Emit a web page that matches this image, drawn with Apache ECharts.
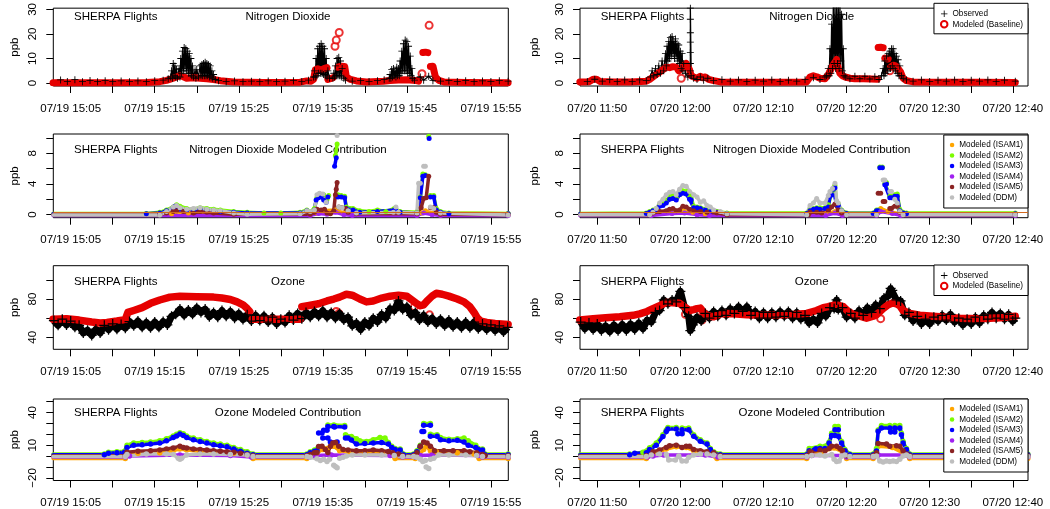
<!DOCTYPE html>
<html><head><meta charset="utf-8">
<script src="https://cdn.jsdelivr.net/npm/echarts/dist/echarts.min.js"></script>
<style>html,body{margin:0;padding:0;background:#fff}#c{width:1050px;height:509px}</style>
</head><body><div id="c"></div>
<script>
// ---------- axis / label data ----------
const dateL = '07/19', dateR = '07/20';
const xTicksL = [905,910,915,920,925,930,935,940,945,950,955];
const xLabelsL = [905,915,925,935,945,955];
const xTicksR = [710,715,720,725,730,735,740,745,750,755,760];
const xLabelsR = [710,720,730,740,750,760];
const xRangeL = [902.93, 957.07];
const xRangeR = [707.92, 761.83];
const yRange1 = [-1.17, 30.5], yTicks1 = [0,10,20,30], yLabels1 = [0,10,20,30];
const yRange2 = [-0.4, 10.5], yTicks2 = [0,2,4,6,8,10], yLabels2 = [0,4,8];
const yRange3 = [27.5, 114.8], yTicks3 = [40,60,80,100], yLabels3 = [40,80];
const yRange4 = [-22.4, 52.4], yTicks4 = [-20,-10,0,10,20,30,40,50], yLabels4 = [-20,10,40];
const yName = 'ppb';
const flightLabel = 'SHERPA Flights';
const panelTitles = ['Nitrogen Dioxide','Nitrogen Dioxide Modeled Contribution','Ozone','Ozone Modeled Contribution'];
const baseNames = ['Observed','Modeled (Baseline)'];
const ctrNames = ['Modeled (ISAM1)','Modeled (ISAM2)','Modeled (ISAM3)','Modeled (ISAM4)','Modeled (ISAM5)','Modeled (DDM)'];
const no2RefLine = 0.3;

// ---------- NO2 (row 1) ----------
const no2ObsL = [[902.9,0.9],[903.8,1.3],[904.6,0.7],[905.5,1.4],[906.4,0.6],[907.3,1.1],[908.2,0.6],[909.1,1.0],[910.0,0.6],[911.0,0.9],[912.0,0.6],[913.0,0.9],[914.0,0.6],[915.0,1.0],[916.0,1.2],[916.6,1.8],
[916.9,2.5],[917.0,5],[917.1,2],[917.2,8],[917.3,3],[917.4,7],[917.5,2.5],[917.6,5.5],[917.7,2],
[917.9,6],[918.0,2.5],[918.1,10],[918.2,4],[918.3,13],[918.4,5],[918.5,14.5],[918.6,6],[918.7,14],[918.8,5],[918.9,13],[919.0,4],[919.1,12],[919.2,4],[919.3,10],[919.4,3],[919.5,7],[919.6,2.5],
[919.8,5],[919.9,2],[920.0,5.5],[920.2,2.5],[920.4,7],[920.5,3],[920.6,7.5],[920.7,3],[920.8,8],[920.9,3],[921.0,8.5],[921.1,3],[921.2,8],[921.3,3],[921.4,7.5],[921.5,2.5],[921.6,7],[921.7,2.5],[921.8,5],[921.9,2],[922.0,3.5],[922.2,1.5],
[922.6,1.0],[923.5,0.6],[924.5,0.9],[925.5,0.6],[926.5,0.8],[927.5,0.6],[928.5,0.9],[929.5,0.6],[930.5,0.8],[931.5,1.0],[932.5,0.7],[933.3,1.2],
[933.9,2.5],[934.0,5],[934.1,2.5],[934.2,10],[934.3,3],[934.4,14],[934.5,4],[934.6,15],[934.7,4],[934.8,16],[934.9,4],[935.0,15],[935.1,3.5],[935.2,14],[935.3,3],[935.4,10],[935.5,2.5],[935.6,5],[935.8,2],
[936.2,2],[936.3,4],[936.4,2.5],[936.5,7],[936.6,3],[936.7,10],[936.8,3],[936.9,10.5],[937.0,3],[937.1,9],[937.2,2.5],[937.3,6],[937.5,2],[937.7,1.2],
[938.5,0.8],[939.5,1.0],[940.5,0.7],[941.5,1.0],[942.3,1.4],
[942.9,2],[943.0,3.5],[943.1,2],[943.2,5.5],[943.3,2.5],[943.4,6],[943.5,3],[943.6,5],[943.7,2.5],[943.8,6.5],[943.9,3],[944.0,6],[944.1,3],[944.2,9],[944.3,4],[944.4,13],[944.5,5],[944.6,16],[944.7,5],[944.8,17.5],[944.9,5],[945.0,17],[945.1,4],[945.2,15],[945.3,4],[945.4,11],[945.5,3],[945.6,6],[945.7,2],[945.9,1.2],
[946.6,2.5],[947.0,1.2],[947.6,2.8],[948.1,1.0],[949,0.8],[950,1.0],[951,0.7],[952,1.0],[953,0.6],[954,0.9],[955,0.7],[956,1.0],[957.05,0.8]];
const no2ModL = [[902.9,0.2],[906,0.2],[910,0.2],[914,0.3],[915.6,0.6],[916.4,1.1],[917.2,2.0],[918.0,3.0],[918.4,2.6],[918.8,2.0],[919.6,2.2],[920.4,2.0],[921.2,1.8],[922.0,1.5],[922.8,1.0],[924.4,0.5],[928,0.3],[932.3,0.4],[933.1,0.9],[933.6,0.8],[933.9,1.5],[934.1,5.4],[934.4,5.8],[934.8,5.3],[935.2,6.0],[935.5,6.3],null,[935.6,1.5],[935.9,1.8],[936.2,2.2],null,[936.8,6.5],[937.2,6.9],[937.6,6.8],[937.8,2.5],[938.3,1.5],[939,0.9],[940.2,0.5],[942.2,0.8],[943,1.1],[944,1.3],[945,1.4],[946,1.1],[946.4,0.8],null,[946.9,12.5],[947.2,12.6],[947.5,12.4],null,[947.8,6.8],[948.1,6.9],[948.3,6.5],[948.4,2.5],[948.8,1.1],[949.4,0.5],[952,0.3],[957.05,0.2]];
const no2ModLOut = [[936.45,15],[936.6,17.5],[936.95,20.6],[946.8,3.8],[947.65,23.5]];
const no2ObsR = [[707.9,1.3],[708.8,0.7],[709.7,1.6],[710.6,0.8],[711.5,1.4],[712.4,0.7],[713.3,1.3],[714.2,0.7],[715.1,1.3],[715.9,1.0],
[716.4,2.5],[716.6,5],[716.8,3],[717.0,6],[717.2,3.5],[717.4,7],[717.6,4],[717.8,9],[718.0,5],[718.2,12],[718.3,7],[718.4,15],[718.5,9],[718.6,17],[718.7,10],[718.8,18.5],[718.9,11],[719.0,19],[719.1,12],[719.2,17],[719.3,10],[719.4,18],[719.5,11],[719.6,16],[719.7,9],[719.8,15.5],[719.9,8],[720.0,13],[720.1,6],[720.2,12],[720.3,5],[720.4,8],[720.6,4],[720.9,2.5],
[721.2,5],[721.2,8],[721.2,12.5],[721.2,16.7],[721.2,20.5],[721.2,26],[721.2,30.5],[721.3,3],[721.6,2],[722.0,1.5],[722.4,2.5],[722.8,1.2],[723.3,2],[724,1.0],[725,1.4],[726,0.8],[727,1.3],[728,0.7],[729,1.2],[730,0.8],[731,1.3],[732,0.7],[733,1.2],[734,0.8],[735,1.4],[736,2.2],[736.8,1.5],[737.4,2.5],
[737.6,3],[737.8,6],[737.9,3],[738.0,14],[738.1,4],[738.2,24],[738.3,6],[738.4,31],[738.5,8],[738.6,31],[738.7,6],[738.8,31],[738.9,8],[739.0,31],[739.1,6],[739.2,31],[739.3,9],[739.4,28],[739.5,5],[739.6,14],[739.7,3],[739.9,2.5],
[740.4,1.8],[741,2.8],[741.6,1.8],[742.2,2.8],[742.8,1.7],[743.4,2.6],[743.9,1.5],
[744.2,3],[744.4,6],[744.5,3],[744.6,9],[744.7,4],[744.8,11],[744.9,5],[745.0,12],[745.1,6],[745.2,13],[745.3,6],[745.4,14],[745.5,7],[745.6,14],[745.7,6],[745.8,12],[745.9,5],[746.0,11],[746.1,4],[746.2,9.5],[746.3,3],[746.4,7],[746.6,3],[746.8,2],
[747.2,1.3],[748,0.8],[749,1.3],[750,0.7],[751,1.2],[752,0.8],[753,1.3],[754,0.7],[755,1.2],[756,0.8],[757,1.3],[758,0.7],[759,1.2],[760.3,0.8]];
const no2ModR = [[707.9,0.5],[709.0,0.6],[709.5,1.6],[709.9,1.6],[710.3,0.7],[712,0.5],[714,0.5],[715.9,0.8],[716.3,1.5],[716.7,2.5],[717.1,3.5],[717.5,4.5],[717.9,5.5],[718.3,6.5],[718.7,6.3],[719.1,6.7],[719.5,6.5],[719.8,5],[720.3,6.5],[720.5,7.3],[720.7,8],[720.9,7.5],[721.1,5.5],[721.3,3],[721.6,2.5],[722,2.0],[722.4,2.8],[722.7,2.2],[723,2.5],[723.4,1.5],[724,1.0],[724.8,0.5],[728,0.4],[732,0.4],[735.2,0.5],[735.6,2.5],[736.0,3.0],[736.4,2.6],[736.8,2.0],[737.4,1.8],[737.8,3.5],[738.1,5.5],[738.4,7.5],[738.6,8.5],[738.8,9.6],[739.0,6],[739.2,4],[739.5,3],[739.8,2.5],[740.4,2.0],[741,1.8],[742,1.8],[743,1.7],[743.7,1.6],null,[743.8,14.5],[744.1,14.6],[744.4,14.4],null,[744.6,10.2],[744.8,10.0],[745.0,9.8],null,[745.3,6.5],[745.6,7.3],[745.9,7.0],[746.1,6.8],[746.3,5.5],[746.5,4.5],[746.8,2],[747.2,1.0],[748,0.5],[752,0.4],[756,0.4],[760.3,0.3]];
const no2ModROut = [[720.1,2],[745.2,5.0]];

// ---------- NO2 contributions (row 2) ----------
const no2L_ISAM1 = [[902.9,0.1],[917,0.1],[918,0.4],[919,0.2],[934.3,0.2],[935,0.5],[936.5,0.6],[937.5,0.2],[946.8,0.2],[947.2,0.5],[948,0.2],[957.05,0.1]];
const no2L_ISAM2 = [[902.9,0.15],[914,0.15],[915.6,0.3],[916.4,0.6],[917.2,1.0],[917.6,1.3],[918,1.1],[918.8,0.8],[919.6,0.7],[920.4,0.9],[921.2,0.8],[922,0.7],[922.8,0.6],[924.4,0.4],[926,0.3],[928,0.2],[930,0.2],[932.3,0.3],[933.1,0.6],[933.5,0.4],[934.0,0.8],[934.3,2.2],[934.7,2.5],[935.1,2.6],[935.5,2.0],[935.7,2.5],null,[936.5,7.7],[936.7,9.2],null,[936.8,2.6],[937.2,2.5],[937.6,2.4],[937.8,1.0],[938.6,0.8],[939.4,0.5],[940.5,0.4],[941.5,0.6],[942.5,0.4],[943.5,0.8],[944.2,0.4],[946.2,0.3],[946.6,2.3],[946.9,5.3],[947.2,5.2],null,[947.6,10.2],null,[947.8,2.5],[948.2,2.5],[948.5,0.8],[949,0.4],[950,0.2],[957.05,0.15]];
const no2L_ISAM3 = [[902.9,0.1],[914,0.1],[915.6,0.2],[916.4,0.5],[917.2,0.9],[917.4,1.1],[918,0.7],[918.8,0.5],[919.6,0.4],[920.4,0.7],[921.2,0.6],[922,0.5],[922.8,0.4],[924.4,0.3],[926,0.2],[932.3,0.2],[933.1,0.5],[933.5,0.3],[934.0,0.6],[934.2,1.9],[934.5,2.2],[934.8,2.4],[935.1,1.9],[935.4,1.6],[935.6,2.3],null,[936.4,6.3],[936.6,7.4],null,[936.8,2.3],[937.2,2.3],[937.6,2.2],[937.8,0.8],[938.6,0.6],[939.4,0.3],[941.5,0.4],[943.5,0.6],[943.7,0.5],[944.2,0.3],[946.2,0.2],[946.6,2.2],[946.9,5.0],[947.2,5.1],null,[947.65,9.9],null,[947.8,2.3],[948.2,2.3],[948.5,0.6],[949,0.3],[950,0.1],[957.05,0.1]];
const no2L_ISAM4 = [[902.9,-0.1],[933.5,-0.1],[934.5,0.15],[935.5,0.05],[936.5,0.3],[937.5,0.0],[938.5,-0.1],[946.2,-0.1],[947,0.2],[948,0.0],[949,-0.1],[957.05,-0.1]];
const no2L_ISAM5 = [[902.9,0],[915.6,0],[916.4,0.2],[917.2,0.4],[917.6,0.5],[918.4,0.4],[919.6,0.2],[920.4,0.4],[921.2,0.3],[922,0.2],[924.4,0.05],[933.5,0.05],[934.0,0.3],[934.3,0.7],[934.8,0.6],[935.2,0.7],[935.5,0.2],[935.9,0.1],[936.3,0.5],[936.5,2.6],[936.6,3.3],[936.7,4.2],null,[936.9,1.0],[937.3,0.9],[937.7,0.8],[938.0,0.3],[939,0.1],[946.2,0.1],[946.7,0.9],[947.0,2.1],[947.3,2.2],[947.6,5.0],null,[947.8,0.9],[948.2,0.9],[948.5,0.3],[949,0.05],[957.05,0]];
const no2L_DDM = [[902.9,-0.05],[915.6,-0.05],[916.4,0.4],[917.2,1.0],[917.6,1.2],[918,0.9],[918.8,0.7],[919.6,0.8],[920.4,0.9],[921.2,0.7],[922,0.6],[922.8,0.5],[924.4,0.2],[926,0.05],[932.3,0.1],[933.1,0.5],[933.5,0.4],[934.0,0.6],[934.3,2.6],[934.6,2.8],[935.0,2.7],[935.4,1.6],null,[936.7,10.3],null,[936.9,1.0],[937.3,0.9],[938,0.5],[939,0.2],[943.4,0.3],[943.7,1.0],[944,0.3],[946.2,0.2],[946.4,4.1],[946.6,4.1],null,[947.0,6.3],[947.2,6.3],null,[947.8,1.0],[948.2,0.8],[949,0.2],[957.05,-0.05]];
const no2R_ISAM1 = [[707.9,0.1],[716.5,0.1],[719,0.3],[720.3,0.5],[721.5,0.3],[723,0.1],[737.5,0.1],[738.6,0.4],[739.5,0.1],[743.6,0.1],[744.1,0.8],[745,0.4],[746.5,0.1],[760.3,0.1]];
const no2R_ISAM2 = [[707.9,0.15],[715.9,0.2],[716.3,0.4],[716.7,0.6],[717.1,0.8],[717.5,1.3],[717.9,1.4],[718.3,1.8],[718.7,2.4],[719.1,2.5],[719.5,2.2],[719.9,2.6],[720.3,3.1],[720.7,3.0],[721.1,2.5],[721.3,2.2],[721.6,1.1],[722.0,1.0],[722.4,0.9],[723.0,0.7],[723.6,0.5],[724.4,0.4],[725.6,0.2],[735.2,0.2],[735.6,0.6],[736.0,0.8],[736.4,0.9],[736.8,0.9],[737.4,0.9],[737.8,1.3],[738.2,2.7],[738.4,3.2],[738.6,3.8],[738.8,1.5],[739.0,1.4],[739.4,0.6],[740,0.2],[743.2,0.2],[743.6,0.6],[743.8,0.6],null,[744.0,6.2],[744.3,6.2],null,[744.6,4.1],[744.8,4.2],[745.2,2.4],[745.4,2.4],[745.8,2.6],[746.1,2.7],[746.4,0.7],[746.8,0.3],[747.2,0.2],[760.3,0.2]];
const no2R_ISAM3 = [[707.9,0.1],[715.9,0.15],[716.3,0.3],[716.7,0.5],[717.1,0.6],[717.5,1.1],[717.9,1.2],[718.3,1.5],[718.7,2.0],[719.1,2.1],[719.5,1.9],[719.9,2.6],[720.3,2.8],[720.7,2.7],[721.1,2.0],[721.3,1.9],[721.6,0.9],[722.0,0.9],[722.4,0.8],[723.0,0.6],[723.6,0.4],[724.4,0.3],[725.6,0.1],[735.2,0.15],[735.6,0.5],[736.0,0.7],[736.4,0.8],[736.8,0.7],[737.4,0.8],[737.8,1.0],[738.0,2.4],[738.2,2.6],[738.4,3.3],[738.6,3.5],[738.8,1.3],[739.0,1.2],[739.4,0.5],[740,0.15],[743.2,0.15],[743.6,0.5],[743.8,0.5],null,[744.0,6.1],[744.3,6.1],null,[744.6,3.9],[744.8,4.0],[745.2,2.2],[745.4,2.2],[745.8,2.4],[746.1,2.4],[746.4,0.5],[746.8,0.2],[747.2,0.1],[760.3,0.1]];
const no2R_ISAM4 = [[707.9,-0.1],[716.5,-0.1],[719,0.15],[720.5,0.2],[722,0.0],[723.5,-0.1],[737.5,-0.1],[738.6,0.2],[739.5,-0.1],[743.6,-0.1],[744.1,0.4],[745.5,0.15],[746.5,-0.1],[760.3,-0.1]];
const no2R_ISAM5 = [[707.9,0],[716.3,0],[716.7,0.2],[717.5,0.4],[718.3,0.5],[718.7,0.7],[719.1,0.8],[719.5,0.5],[719.9,0.6],[720.3,1.1],[720.7,1.0],[721.1,0.7],[721.6,0.5],[722.4,0.4],[723.2,0.3],[724.4,0.2],[725.6,0],[735.4,0],[735.6,0.3],[736.4,0.3],[737.0,0.2],[737.8,0.5],[738.2,1.0],[738.6,1.4],[738.8,1.5],[739.0,0.6],[739.4,0.2],[740,0],[743.6,0],null,[743.8,2.8],[744.1,2.8],null,[744.4,1.7],[744.6,1.7],null,[745.2,0.8],[745.4,0.8],[745.8,1.1],[746.1,1.1],[746.4,0.3],[746.8,0],[760.3,0]];
const no2R_DDM = [[707.9,0],[716.3,0],[716.7,0.3],[717.1,0.8],[717.5,1.5],[717.9,2.0],[718.3,2.6],[718.7,2.9],[719.1,3.0],[719.5,2.6],[719.9,3.3],[720.3,3.8],[720.7,3.7],[721.1,3.0],[721.6,2.6],[722.0,2.3],[722.4,1.6],[722.8,1.8],[723.2,1.2],[723.6,1.0],[724.0,0.6],[724.8,0.4],[725.6,0.1],[735.2,0],[735.6,1.2],[736.0,1.5],[736.4,2.1],[736.8,1.5],[737.4,1.5],[737.8,2.5],[738.0,3.0],[738.3,3.4],[738.6,4.1],[738.8,1.8],[739.0,1.5],[739.4,0.5],[740,0],[743.6,0],null,[744.4,4.5],[744.6,4.5],null,[745.2,3.0],[745.4,3.0],[745.8,2.0],[746.1,1.5],[746.4,0.4],[746.8,0],[760.3,0]];

// ---------- Ozone (row 3) ----------
const o3ObsL = [[903,57.5],[903.5,52.5],[904,59],[904.5,53],[905,57],[905.5,50.5],[906,52.5],[906.5,44.5],[907,47.5],[907.5,42],[908,48.5],[908.5,44.5],[909,52.5],[909.5,48],[910,54],[910.5,48.5],[911,53.5],[911.5,49.5],[912,56.5],[912.5,52],[913,57],[913.5,50.5],[914,55.5],[914.5,50],[915,56],[915.5,50.5],[916,56.5],[916.5,53],[917,62],[917.5,64],[918,69.5],[918.5,63],[919,68.5],[919.5,64],[920,71],[920.5,66],[921,69.5],[921.5,61.5],[922,66],[922.5,61],[923,68],[923.5,62],[924,67],[924.5,60],[925,65],[925.5,58.5],[926,63.5],[926.5,57],[927,63],[927.5,57.5],[928,62.5],[928.5,56],[929,61],[929.5,54],[930,59],[930.5,55.5],[931,63],[931.5,58],[932,65],[932.5,59.5],[933,66],[933.5,61],[934,67],[934.5,62],[935,68],[935.5,61],[936,66],[936.5,60],[937,65],[937.5,58],[938,61],[938.5,52],[939,55],[939.5,48],[940,56],[940.5,52],[941,60],[941.5,56],[942,64],[942.5,60],[943,70],[943.5,68],[944,78],[944.5,69],[945,72],[945.5,63],[946,66],[946.5,58],[947,63],[947.5,56],[948,60],[948.5,54],[949,59],[949.5,52],[950,58],[950.5,51],[951,56],[951.5,50],[952,56],[952.5,50],[953,56],[953.5,49],[954,54],[954.5,48],[955,53],[955.5,47],[956,52],[956.5,45.5],[957,50.5]];
const o3ModL = [[902.9,59],[904.5,59.5],[906,58],[907.5,56],[908.5,55],[909.3,55.5],[910.5,57],[911.5,58.5],[911.8,66],[912.5,68],[913.5,71],[914.5,75.5],[915.6,79],[916.8,82],[918,83],[920,82.5],[922,82],[923,81],[924,79.5],[924.8,77],[925.5,74],[926.0,70],[926.3,67],null,[926.6,58.8],[928,58.8],[930,58.8],[932.3,58.8],null,[932.5,72],[933.2,73],[934.5,75],[935.5,78],[936.3,80],[937,82],[937.8,85],[938.5,84],[939.4,80],[940.2,77],[941,78],[942,81],[943,83],[944,84],[945,83],[945.6,79],[946.2,75],[946.6,73],[947.0,74],[947.4,78],[948.0,83],[948.5,86],[949.2,85],[950,83],[951,80],[951.8,77],[952.5,72],[953,66],[953.4,60],[953.8,57],[954.5,55.5],[955.5,54.5],[957.05,53.5]];
const o3ModLOut = [[936.6,67],[936.9,65],[945.9,72],[947.7,63.5]];
const o3ObsR = [[708,56],[708.5,49],[709,55],[709.5,48],[710,54],[710.5,47],[711,52],[711.5,46],[712,53],[712.5,47],[713,53.5],[713.5,47],[714,54],[714.5,48],[715,55],[715.5,49],[716,58],[716.5,56],[717,66],[717.5,68],[718,79],[718.5,75],[719,79],[719.5,77],[720,88],[720.5,71],[721,62],[721.2,47],[721.5,53],[722,61],[722.5,57],[723,65],[723.5,60],[724,67],[724.5,62],[725,68],[725.5,63],[726,70],[726.5,65],[727,72],[727.5,67],[728,72],[728.5,63],[729,67],[729.5,60],[730,66],[730.5,60],[731,66],[731.5,61],[732,67],[732.5,62],[733,67],[733.5,60],[734,66],[734.5,59],[735,63],[735.5,55],[736,59],[736.5,55],[737,65],[737.5,62],[738,71],[738.5,70],[738.8,79],[739,69],[739.5,71],[740,61],[740.5,65],[741,60],[741.5,68],[742,63],[742.5,71],[743,66],[743.5,74],[744,70],[744.5,81],[745,83],[745.3,91],[745.5,89],[746,79],[746.5,78],[747,63],[747.5,66],[748,57],[748.5,62],[749,54],[749.5,59],[750,54],[750.5,61],[751,57],[751.5,63],[752,58],[752.5,64],[753,56],[753.5,60],[754,53],[754.5,59],[755,54],[755.5,61],[756,55],[756.5,63],[757,59],[757.5,66],[758,60],[758.5,65],[759,59],[759.5,64],[760,57],[760.3,60]];
const o3ModR = [[707.9,58],[709.5,59.5],[711,60.5],[712.7,61.5],[714.3,63],[715.1,64.5],[716,67],[716.7,70],[717.5,73],[718.3,76.5],[719.1,76],[719.9,75.5],[720.3,73],[720.7,70.5],[721.1,68],[721.6,69],[722,70],[722.4,70.5],[723,64],[723.6,62],[724.0,61.5],[724.8,64.5],[726,65],[728,63.5],[730,63],[732,63.5],[734,64],[735.2,65],[736.4,68],[737.2,71],[737.8,72],[738.4,73.5],[739,73.5],[739.6,72],[740.2,67],[740.8,64],[741.6,62],[742.4,60],[743.2,62],[743.6,63.5],[744.4,70],[745,74],[745.6,76],[746,75],[746.4,73],[746.8,68],[747.6,65],[748.8,63],[751.2,61.5],[753.6,60],[756,59.5],[758.5,60.5],[760.3,62]];
const o3ModROut = [[720.6,64],[722.2,60.5],[722.6,58],[744.1,59.5]];

// ---------- Ozone contributions (row 4) ----------
const o3L_ISAM1 = [[902.9,-2.2],[911.5,-2.2],[911.7,1],[913,2.5],[915.6,3],[917.2,5],[918,6.5],[918.8,5.5],[920.4,4.5],[922,3.5],[924.4,2.5],[926,1],[926.7,-2.2],[933.1,-2.2],[933.5,0],[934.3,3],[935,6],[935.5,7],[936.3,9],[937,5],[938,4],[940,3],[942,3],[943,2],[943.6,-2.2],[946,-2.2],[946.4,1],[947,6],[947.3,9],[947.8,5],[948.5,4],[951,3],[953,2],[953.6,-2.2],[957.05,-2.2]];
const o3L_ISAM2 = [[902.9,2],[909,2],[909.5,3.5],[910.5,4],[911.4,4.5],[911.7,10],[912.5,12],[913.5,12.5],[914.5,13],[915.6,14],[916.4,16],[917.2,18.5],[917.6,20],[918.0,21.5],[918.4,20.5],[918.8,18.5],[919.6,16.5],[920.4,15],[921.2,13.5],[922.0,12],[922.8,11],[923.6,10],[924.4,8],[925.2,6],[926,4],[926.7,2],[933.1,2],[933.5,4],[934.0,5.5],[934.3,6.5],null,[935.6,28.5],[936.3,28.5],[936.4,28],[937.6,28],null,[937.7,19.5],[938.4,18],[939,16],[939.4,14],[940.2,13.5],[941,15],[941.8,17],[942.4,16.5],[942.8,12.5],[943.2,9],[943.6,7],[944.2,6.5],[944.6,2],[945.8,2],[946.2,5],[946.6,10],null,[947.0,29.8],[947.8,29.8],null,[947.8,20],[948.6,19.5],[949,17],[950,15.5],[951,16],[951.8,16.5],[952.3,14],[953.2,10],[953.5,7],[954,6.5],[954.3,2],[957.05,2]];
const o3L_ISAM3 = [[902.9,1.2],[909,1.2],[909.5,2.5],[910.5,3],[911.4,3.5],[911.7,8],[912.5,10],[913.5,10.5],[914.5,11],[915.6,12],[916.4,14],[917.2,17],[917.6,18.5],[918.0,20.3],[918.4,19],[918.8,17],[919.6,15],[920.4,13.5],[921.2,12],[922.0,10.5],[922.8,9.5],[923.6,8.5],[924.4,6.5],[925.2,4.5],[926,2.5],[926.7,1.2],[933.1,1.2],[933.5,3],[934.0,4.5],[934.3,5],null,[934.5,21.2],[934.9,21.2],[935.1,23.8],[935.5,23.8],[935.6,27.2],[936.3,27.2],[936.4,26.6],[937.6,26.6],null,[935.0,16.7],[935.6,16.7],null,[935.9,13],[936.7,13],null,[937.7,16.7],[938.0,16.7],[938.4,14.7],[939.0,11],[940,11.5],[941,12],[942,12.5],[942.8,11],[943.2,8],[943.6,6],[944.2,5.5],[944.6,1.2],[945.8,1.2],[946.2,4],[946.6,9],null,[946.8,22.6],[947.0,22.6],null,[947.0,28.4],[947.8,28.4],null,[947.8,18.2],[948.6,18.2],[949,15],[950,14],[951,14.5],[951.8,13],[952.3,10],[953.2,8],[953.5,6],[954,5.5],[954.3,1.2],[957.05,1.2]];
const o3L_ISAM4 = [[902.9,-0.8],[911.5,-0.8],[912,0],[918,1],[924,0.5],[926.5,-0.8],[933.3,-0.8],[934,0.5],[936,1],[943,0.5],[944.5,-0.8],[946,-0.8],[946.6,0.5],[948,1],[953.5,0.5],[954,-0.8],[957.05,-0.8]];
const o3L_ISAM5 = [[902.9,0.3],[911.5,0.3],[911.7,3.5],[913,4.5],[914.5,5],[915.6,5.5],[916.4,6.5],[917.2,7.5],[918.0,9],[918.4,8],[918.8,7.5],[919.6,6.5],[920.4,6],[921.2,5.5],[922.0,5],[922.8,4.5],[923.6,4],[924.4,3.5],[925.2,2.5],[926,1.5],[926.7,0.3],[933.1,0.3],[933.5,1.5],[934.0,3],[934.3,3.4],[934.5,8.8],[934.9,9],[935.3,6],[935.6,3.4],[935.9,9],[936.2,12],[936.5,12.5],[936.9,9],[937.4,6],[938,5.5],[939,5],[940,5],[941,5.5],[942,5],[942.8,4.3],[943.3,3],[944,2],[944.5,0.3],[945.8,0.3],[946.2,3],[946.6,9],[947.0,13],[947.4,12],[947.8,9],[948.3,5],[949.4,5],[950.5,5],[951.8,5],[952.5,4],[953.3,3],[954,1.5],[954.3,0.3],[957.05,0.3]];
const o3L_DDM = [[902.9,-0.3],[911.5,-0.3],[911.7,1.5],[914,2],[916.4,2],[917.2,1.5],[917.8,-2],[918.0,-3],[918.2,-2],[918.8,1],[920.4,2],[922,2],[924,1.5],[926,1],[926.7,-0.3],[933.1,-0.3],[933.5,-1],[934.3,-2.5],[934.7,-4],[935.1,-3],[935.5,-5],[935.8,-3],null,[936.3,-8.4],[936.5,-9.5],[936.7,-10.6],null,[937,-2],[937.4,-1],[937.8,0],[938.5,1],[940,1],[942,1],[943.5,0.5],[944.5,-0.3],[945.8,-0.3],[946.2,-1],[946.6,-3],[946.9,-5],[947.2,-4],null,[947.3,-10],[947.6,-11.5],null,[947.8,-3],[948.2,-2],[948.8,1],[950,1],[952,1],[953.3,0.5],[954,-0.3],[957.05,-0.3]];
const o3R_ISAM1 = [[707.9,-2.2],[715.9,-2.2],[716.7,2],[717.5,4],[718.3,6.5],[719.5,8.5],[720.7,8],[721.6,5],[723.2,3],[724.4,-2.2],[735.2,-2.2],[735.6,3],[737,4],[738.5,7.5],[739.5,4],[740,-2.2],[743.2,-2.2],[743.8,9],[745.5,8],[746.8,3],[747.6,-2.2],[761.8,-2.2]];
const o3R_ISAM2 = [[707.9,2],[713.9,2],[715.5,3.5],[716.3,7.6],[717.1,12],[717.9,19.7],[718.3,24],[718.5,26.3],[719.5,26.3],null,[719.7,21],[720.2,21],null,[720.2,25.7],[721.0,25.7],[721.6,19.5],[722.4,15],[723.2,12],[723.6,7],[724.0,4],[724.8,2],[735.2,2],[735.5,7],[736.8,9],[737.4,9],[737.9,13],[738.2,21],[738.6,22],null,[738.6,27.2],[739.0,27.2],null,[739.0,19.5],[739.4,13.5],[739.8,6],[740.4,2],[743.2,2],[743.6,7],[743.8,24],[744.2,28],[745.2,28],null,[745.3,23.5],[745.8,23.5],null,[745.8,28],[746.4,28],[746.6,21],[746.8,13.5],[747.2,7],[747.6,2],[761.8,2]];
const o3R_ISAM3 = [[707.9,1.2],[713.9,1.2],[714.5,2.5],[715.9,3],[716.3,6],[717.1,10],[717.9,18],[718.3,22.5],[718.5,24.8],[719.5,24.8],null,[719.7,20.5],[720.2,20.5],null,[720.2,24.2],[721.0,24.2],[721.6,18.1],[722.4,13.6],[723.2,11],[723.6,6],[724.0,3],[724.8,1.2],[735.2,1.2],[735.5,5],[736.3,6.7],[736.8,7],[737.4,7],[737.9,12],[738.2,19],[738.6,19],null,[738.6,24.2],[739.0,24.2],null,[739.0,18.1],[739.4,12],[739.8,5],[740.4,1.2],[743.2,1.2],[743.6,4.6],[743.8,22.7],[744.2,25.7],[745.2,25.7],null,[745.3,22],[745.8,22],null,[745.8,25.7],[746.4,25.7],[746.6,19.7],[746.8,12.1],[747.2,6],[747.6,1.2],[761.8,1.2]];
const o3R_ISAM4 = [[707.9,-0.8],[716,-0.8],[716.7,0],[718,1],[723,1],[724.5,-0.8],[735.2,-0.8],[735.8,0.5],[739.5,0.5],[740,-0.8],[743.2,-0.8],[743.8,1],[747,1],[747.6,-0.8],[761.8,-0.8]];
const o3R_ISAM5 = [[707.9,0.3],[715.9,0.3],[716.7,4],[717.5,5.5],[718.3,8],[718.7,9.5],[719.5,10],[720.2,8],[720.7,9],[721.1,9],[721.6,6],[722.4,5],[723.2,4],[724,3],[724.8,0.3],[735.2,0.3],[735.6,4],[736.8,5.5],[737.4,5],[737.9,7],[738.2,9],[738.8,9],[739.2,7],[739.5,5],[740,0.3],[743.2,0.3],[743.6,3],[743.8,11.5],[744.8,11],[745.2,9],[746,9.5],[746.4,9],[746.8,4.6],[747.2,2],[747.6,0.3],[761.8,0.3]];
const o3R_DDM = [[707.9,-0.3],[715.9,-0.3],[716.5,1],[717.5,2],[718.3,1.5],[718.6,-3.6],[719.4,-3.6],[719.8,0],[720.2,-4.5],[720.7,-4.5],[721.0,-1],[721.6,1],[722.4,2],[723.2,2],[724,1],[724.8,-0.3],[735.2,-0.3],[735.8,0.5],[736.8,1],[737.4,0],[738.2,1.5],[738.5,-3],[738.8,-5],[739.1,-4.5],[739.4,0],[739.8,1],[740.4,-0.3],[743.2,-0.3],[743.6,0],[744.0,-4.5],[744.4,-5.4],[744.8,-4.5],[745.2,-5],[745.6,-4.5],[746,-5],[746.4,-3],[746.8,0],[747.2,1],[747.6,-0.3],[761.8,-0.3]];

// ---------- styling / layout ----------
const FONT = '"Liberation Sans", Arial, Helvetica, sans-serif';
const PLUS = 'path://M3.5,0H4.5V3.5H8V4.5H4.5V8H3.5V4.5H0V3.5H3.5Z';
const RED = '#E60000';
const CTR_COLORS = ['#FFA500','#7CFC00','#0000FF','#A020F0','#8B2323','#BEBEBE'];
const colLeft = [53.3, 580], colW = [455, 448];
const rowTop = [4.7, 134, 265.7, 399], rowH = [81.3, 83.7, 83.6, 82.7];
const titleY = [16.7, 149.5, 282, 412.8];
const yRanges = [yRange1, yRange2, yRange3, yRange4];
const yTicks = [yTicks1, yTicks2, yTicks3, yTicks4];
const yLabels = [yLabels1, yLabels2, yLabels3, yLabels4];

function hhmm(v){ const h=Math.floor(v/60+1e-9), m=Math.round(v-h*60); return String(h).padStart(2,'0')+':'+String(m).padStart(2,'0'); }

const grids=[], xAxes=[], yAxes=[], series=[], graphics=[], legends=[];
for (let r=0;r<4;r++) for (let c=0;c<2;c++){
  const gi=r*2+c;
  grids.push({left:colLeft[c], top:rowTop[r], width:colW[c], height:rowH[r], show:true, borderColor:'#000', borderWidth:1, backgroundColor:'rgba(0,0,0,0)'});
  xAxes.push({type:'value', gridIndex:gi, min:(c?xRangeR:xRangeL)[0], max:(c?xRangeR:xRangeL)[1],
    axisLine:{show:false, onZero:false}, splitLine:{show:false},
    axisTick:{show:true, inside:false, length:7, customValues:c?xTicksR:xTicksL, lineStyle:{color:'#000', width:1}},
    axisLabel:{show:true, customValues:c?xLabelsR:xLabelsL, margin:16.5, color:'#000', fontSize:11.5, fontFamily:FONT,
      formatter:v=>(c?dateR:dateL)+' '+hhmm(v)}});
  yAxes.push({type:'value', gridIndex:gi, min:yRanges[r][0], max:yRanges[r][1],
    name:yName, nameLocation:'middle', nameGap:c?39:32, nameRotate:90,
    nameTextStyle:{color:'#000', fontSize:11.5, fontFamily:FONT},
    axisLine:{show:false, onZero:false}, splitLine:{show:false},
    axisTick:{show:true, inside:false, length:7, customValues:yTicks[r], lineStyle:{color:'#000', width:1}},
    axisLabel:{show:true, customValues:yLabels[r], rotate:90, margin:14.5, color:'#000', fontSize:11.5, fontFamily:FONT,
      formatter:v=>v<0?'\u2212'+Math.abs(v):String(v)}});
  graphics.push({type:'text', z:1, x:c?600.7:74, y:titleY[r], style:{text:flightLabel, font:'11.5px '+FONT, fill:'#000', textAlign:'left', textVerticalAlign:'middle', align:'left', verticalAlign:'middle'}});
  graphics.push({type:'text', z:1, x:c?811.7:288, y:titleY[r], style:{text:panelTitles[r], font:'11.5px '+FONT, fill:'#000', textAlign:'center', textVerticalAlign:'middle', align:'center', verticalAlign:'middle'}});
}

function obs(data, gi, lw, ss){
  series.push({type:'line', name:baseNames[0], data, xAxisIndex:gi, yAxisIndex:gi, symbol:PLUS, symbolSize:ss, showSymbol:true,
    lineStyle:{color:'#000', width:lw, join:'round'}, itemStyle:{color:'#000'}, silent:true, connectNulls:false});
}
function modLine(data, gi, lw){
  series.push({type:'line', name:baseNames[1], data, xAxisIndex:gi, yAxisIndex:gi, symbol:'none', showSymbol:false,
    lineStyle:{color:RED, width:lw, cap:'round', join:'round'}, itemStyle:{color:RED}, silent:true, connectNulls:false});
}
function modOut(data, gi){
  series.push({type:'scatter', name:baseNames[1], data, xAxisIndex:gi, yAxisIndex:gi, symbol:'emptyCircle', symbolSize:7,
    itemStyle:{color:RED, borderColor:RED, borderWidth:1.8}, silent:true});
}
function ctr(k, data, gi, lw, ss, mark){
  const s={type:'line', name:ctrNames[k], data, xAxisIndex:gi, yAxisIndex:gi, symbol:'circle', symbolSize:ss, showSymbol:true,
    lineStyle:{color:CTR_COLORS[k], width:lw, cap:'round', join:'round'}, itemStyle:{color:CTR_COLORS[k]}, silent:true, connectNulls:false};
  if (mark!=null) s.markLine={silent:true, symbol:'none', label:{show:false}, data:[{yAxis:mark}], lineStyle:{color:'#D2691E', width:1, type:'solid'}};
  series.push(s);
}

// row 1
obs(no2ObsL,0,1.3,7); modLine(no2ModL,0,7); modOut(no2ModLOut,0);
obs(no2ObsR,1,1.3,7); modLine(no2ModR,1,7); modOut(no2ModROut,1);
// row 2
[no2L_ISAM1,no2L_ISAM2,no2L_ISAM3,no2L_ISAM4,no2L_ISAM5,no2L_DDM].forEach((d,k)=>ctr(k,d,2,3.5,5,k===5?no2RefLine:null));
[no2R_ISAM1,no2R_ISAM2,no2R_ISAM3,no2R_ISAM4,no2R_ISAM5,no2R_DDM].forEach((d,k)=>ctr(k,d,3,3.5,5,k===5?no2RefLine:null));
// row 3
obs(o3ObsL,4,7,10); modLine(o3ModL,4,7.5); modOut(o3ModLOut,4);
obs(o3ObsR,5,7,10); modLine(o3ModR,5,7.5); modOut(o3ModROut,5);
// row 4
[o3L_ISAM1,o3L_ISAM2,o3L_ISAM3,o3L_ISAM4,o3L_ISAM5,o3L_DDM].forEach((d,k)=>ctr(k,d,6,3.5,5.5,null));
[o3R_ISAM1,o3R_ISAM2,o3R_ISAM3,o3R_ISAM4,o3R_ISAM5,o3R_DDM].forEach((d,k)=>ctr(k,d,7,3.5,5.5,null));

const legendTop = [3.3, 135, 265, 399];
for (let r=0;r<4;r++){
  const items = (r%2===0)
    ? [{name:baseNames[0], icon:PLUS},{name:baseNames[1], icon:'emptyCircle'}]
    : ctrNames.map(n=>({name:n, icon:'circle'}));
  legends.push({orient:'vertical', right:22, top:legendTop[r], data:items, selectedMode:false,
    backgroundColor:'#fff', borderColor:'#000', borderWidth:1, borderRadius:0,
    padding:(r%2===0)?[6,5,5,6]:[5.5,5,6,6], itemGap:1.5,
    itemWidth:(r%2===0)?6.5:4.5, itemHeight:(r%2===0)?6.5:4.5,
    textStyle:{fontSize:8.2, fontFamily:FONT, color:'#000', lineHeight:9}, z:10});
}

const chart = echarts.init(document.getElementById('c'), null, {renderer:'canvas'});
chart.setOption({animation:false, backgroundColor:'#fff', textStyle:{fontFamily:FONT},
  grid:grids, xAxis:xAxes, yAxis:yAxes, series, graphic:graphics, legend:legends});
</script></body></html>
